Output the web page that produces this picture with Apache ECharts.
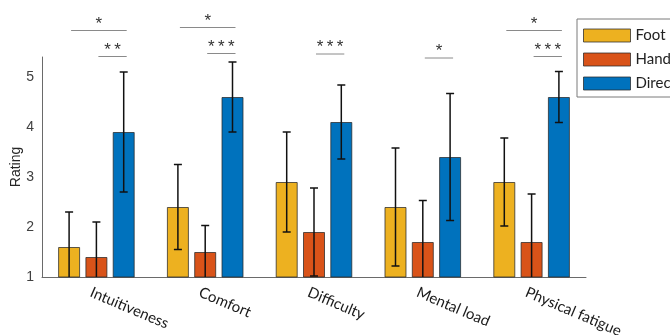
<!DOCTYPE html>
<html><head><meta charset="utf-8">
<script src="https://cdn.jsdelivr.net/npm/echarts@6/dist/echarts.min.js"></script>
<style>html,body{margin:0;padding:0;background:#fff}#c{width:670px;height:335px}</style>
</head><body><div id="c"></div>
<script>
const categories = ['Intuitiveness', 'Comfort', 'Difficulty', 'Mental load', 'Physical fatigue'];
const seriesNames = ['Foot', 'Hand', 'Direct'];
const footMean = [1.6, 2.4, 2.9, 2.4, 2.9];
const footErr = [0.7, 0.85, 1.0, 1.18, 0.88];
const handMean = [1.4, 1.5, 1.9, 1.7, 1.7];
const handErr = [0.7, 0.53, 0.88, 0.83, 0.96];
const directMean = [3.9, 4.6, 4.1, 3.4, 4.6];
const directErr = [1.2, 0.7, 0.74, 1.27, 0.51];
const yTicks = [1, 2, 3, 4, 5];
// significance annotations
const sigCategory = [0, 0, 1, 1, 2, 3, 4, 4];
const sigFrom = [0, 1, 0, 1, 1, 1, 0, 1];
const sigTo = [2, 2, 2, 2, 2, 2, 2, 2];
const sigLevel = [5.93, 5.41, 5.99, 5.47, 5.46, 5.38, 5.93, 5.41];
const sigLabel = ['*', '**', '*', '***', '***', '*', '*', '***'];

const colors = ['#EDB120', '#D95319', '#0072BD'];
const means = [footMean, handMean, directMean];
const errs = [footErr, handErr, directErr];
const BAR_W = 22, GAP = 5.3;
function barOffset(i) {
  const total = 3 * BAR_W + 2 * GAP;
  return -total / 2 + BAR_W / 2 + i * (BAR_W + GAP);
}

const series = [];
seriesNames.forEach((name, i) => {
  series.push({
    name: name, type: 'bar', barWidth: BAR_W, barGap: (GAP / BAR_W * 100).toFixed(1) + '%',
    data: means[i],
    itemStyle: { color: colors[i], borderColor: 'rgba(40,40,40,0.75)', borderWidth: 1 },
    emphasis: { disabled: true }
  });
});
seriesNames.forEach((name, i) => {
  series.push({
    type: 'custom', clip: true, z: 5, silent: true,
    data: means[i].map((m, k) => [k, m, errs[i][k]]),
    renderItem: function (params, api) {
      const k = api.value(0), m = api.value(1), e = api.value(2);
      const top = api.coord([k, m + e]);
      const bot = api.coord([k, m - e]);
      const x = top[0] + barOffset(i);
      const cap = 4;
      const st = { stroke: '#111', lineWidth: 1.5 };
      return { type: 'group', children: [
        { type: 'line', shape: { x1: x, y1: top[1], x2: x, y2: bot[1] }, style: st },
        { type: 'line', shape: { x1: x - cap, y1: top[1], x2: x + cap, y2: top[1] }, style: st },
        { type: 'line', shape: { x1: x - cap, y1: bot[1], x2: x + cap, y2: bot[1] }, style: st }
      ]};
    }
  });
});
series.push({
  type: 'custom', clip: false, z: 6, silent: true,
  data: sigCategory.map((c, j) => [c, sigLevel[j], sigFrom[j], sigTo[j]]),
  renderItem: function (params, api) {
    const c = api.value(0), lvl = api.value(1);
    const p = api.coord([c, lvl]);
    const x1 = p[0] + barOffset(api.value(2)) + 2;
    const x2 = p[0] + barOffset(api.value(3)) + 3;
    const lab = sigLabel[params.dataIndex].split('').join('\u2009');
    return { type: 'group', children: [
      { type: 'line', shape: { x1: x1, y1: p[1], x2: x2, y2: p[1] }, style: { stroke: '#8a8a8a', lineWidth: 1 } },
      { type: 'text', style: { text: lab, x: (x1 + x2) / 2, y: p[1] + 2, align: 'center', verticalAlign: 'bottom',
        fill: '#333', font: '17px "Liberation Sans"' } }
    ]};
  }
});

const chart = echarts.init(document.getElementById('c'), null, { renderer: 'canvas' });
chart.setOption({
  animation: false,
  grid: { left: 42, right: 84, top: 57, bottom: 58, containLabel: false, outerBoundsMode: 'none' },
  legend: {
    orient: 'vertical', left: 577, top: 19,
    icon: 'rect',
    itemWidth: 47, itemHeight: 13, itemGap: 9,
    padding: [9, 30, 6, 6],
    borderColor: '#7a7a7a', borderWidth: 1, backgroundColor: '#fff',
    textStyle: { fontSize: 15, color: '#222', fontFamily: 'Lato' },
    data: seriesNames,
    itemStyle: { borderColor: 'rgba(40,40,40,0.75)', borderWidth: 1 }
  },
  xAxis: {
    type: 'category', data: categories,
    axisLine: { lineStyle: { color: '#6a6a6a', width: 1 } },
    axisTick: { show: false },
    axisLabel: { rotate: -23, margin: 17, fontSize: 15, color: '#1a1a1a', fontFamily: 'Lato', interval: 0,
      padding: [0, 0, 0, -6] }
  },
  yAxis: {
    type: 'value', min: 1, max: 5.4, interval: 1,
    name: 'Rating', nameLocation: 'middle', nameGap: 19, nameMoveOverlap: false,
    nameTextStyle: { fontSize: 14, color: '#262626', fontFamily: 'Liberation Sans' },
    axisLine: { show: true, lineStyle: { color: '#6a6a6a', width: 1 } },
    axisTick: { show: false },
    splitLine: { show: false },
    axisLabel: { fontSize: 14, color: '#404040', fontFamily: 'Liberation Sans', margin: 8,
      formatter: v => (yTicks.indexOf(v) >= 0 ? String(v) : '') }
  },
  series: series
});
</script></body></html>
